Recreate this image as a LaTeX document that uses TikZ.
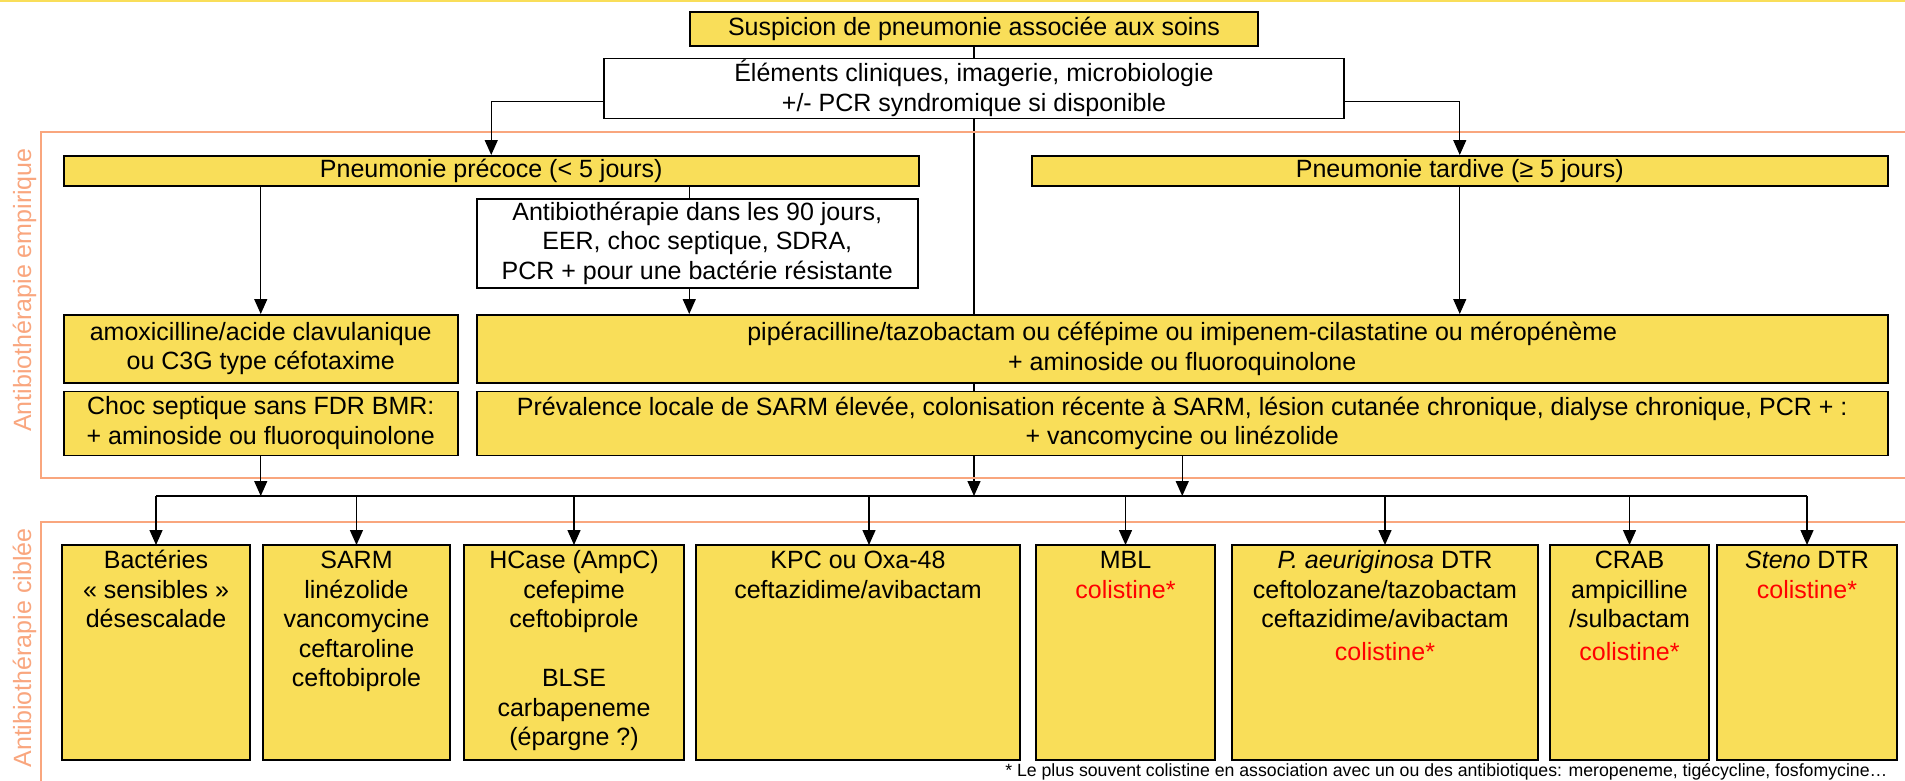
\documentclass[tikz,border=0pt]{standalone}
\usepackage{fontspec}
\setmainfont{Liberation Sans}
\usepackage{xcolor}
\usetikzlibrary{arrows.meta, positioning, calc, backgrounds}

\definecolor{boxyellow}{RGB}{249,222,89}
\definecolor{zoneorange}{RGB}{249,166,126}

% text of the targeted boxes, set at the top
\newcommand{\boxtext}[2]{\parbox[c][209pt][t]{#1}{\centering\strut #2}}

\begin{document}
\begin{tikzpicture}[
    x=1pt, y=-1pt,
    node distance=13pt and 13pt,
    every node/.style={font=\fontsize{25}{29.5}\selectfont},
    yellowbox/.style={
        draw=black,
        fill=boxyellow,
        line width=1.5pt,
        align=center,
        inner sep=1pt
    },
    whitebox/.style={yellowbox, fill=white},
    targetbox/.style={
        draw=black,
        fill=boxyellow,
        line width=1.5pt,
        inner sep=3pt,
        outer sep=0pt
    },
    zone/.style={draw=zoneorange, line width=2pt},
    zonelabel/.style={text=zoneorange, rotate=90, anchor=base},
    arrow/.style={-{Triangle[length=15pt,width=13pt]}, line width=1.4pt},
    link/.style={line width=1.4pt}
]

\useasboundingbox (0,0) rectangle (1905,781);

% top stripe and zones
\draw[boxyellow, line width=3pt] (0,1) -- (1905,1);
\draw[zone] (1905,132) -- (41,132) -- (41,478) -- (1905,478);
\draw[zone] (1905,522) -- (41,522) -- (41,781);
\node[zonelabel] (lblemp) at (31,290) {Antibiothérapie empirique};
\node[zonelabel] (lblcib) at (31,648) {Antibiothérapie ciblée};

% empirical part
\node[yellowbox, minimum width=568pt, minimum height=34pt] (susp) at (974,29) {Suspicion de pneumonie associée aux soins};
\node[whitebox, below=11pt of susp, minimum width=740pt, minimum height=60pt] (elem) {Éléments cliniques, imagerie, microbiologie\\+/- PCR syndromique si disponible};

\node[yellowbox, anchor=north west, minimum width=855pt, minimum height=30pt] (early) at (63,155) {Pneumonie précoce (< 5 jours)};
\node[yellowbox, anchor=north west, minimum width=856pt, minimum height=30pt] (late) at (1031,155) {Pneumonie tardive (≥ 5 jours)};
\node[whitebox, anchor=north west, minimum width=441pt, minimum height=89pt] (risk) at (476,198) {Antibiothérapie dans les 90 jours,\\EER, choc septique, SDRA,\\PCR + pour une bactérie résistante};

\node[yellowbox, anchor=north west, minimum width=394pt, minimum height=68pt] (amox) at (63,314) {amoxicilline/acide clavulanique\\ou C3G type céfotaxime};
\node[yellowbox, below=7pt of amox, minimum width=394pt, minimum height=64pt] (choc) {Choc septique sans FDR BMR:\\+ aminoside ou fluoroquinolone};
\node[yellowbox, anchor=north west, minimum width=1411pt, minimum height=68pt] (broad) at (476,314) {pipéracilline/tazobactam ou céfépime ou imipenem-cilastatine ou méropénème\\+ aminoside ou fluoroquinolone};
\node[yellowbox, below=7pt of broad, minimum width=1411pt, minimum height=64pt] (mrsa) {Prévalence locale de SARM élevée, colonisation récente à SARM, lésion cutanée chronique, dialyse chronique, PCR + :\\+ vancomycine ou linézolide};

% targeted part
\node[targetbox, anchor=north west] (bact) at (62,545) {\boxtext{182pt}{Bactéries\\« sensibles »\\désescalade}};
\node[targetbox, right=13pt of bact] (sarm) {\boxtext{181pt}{SARM\\linézolide\\vancomycine\\ceftaroline\\ceftobiprole}};
\node[targetbox, right=14pt of sarm] (hcase) {\boxtext{214pt}{HCase (AmpC)\\cefepime\\ceftobiprole\\[29.5pt]BLSE\\carbapeneme\\(épargne ?)}};
\node[targetbox, right=12pt of hcase] (kpc) {\boxtext{318pt}{KPC ou Oxa-48\\ceftazidime/avibactam}};
\node[targetbox, right=16pt of kpc] (mbl) {\boxtext{173pt}{MBL\\\textcolor{red}{colistine*}}};
\node[targetbox, right=17pt of mbl] (pae) {\boxtext{300pt}{\textit{P. aeuriginosa} DTR\\ceftolozane/tazobactam\\ceftazidime/avibactam\\[3pt]\textcolor{red}{colistine*}}};
\node[targetbox, right=12pt of pae] (crab) {\boxtext{153pt}{CRAB\\ampicilline\\/sulbactam\\[3pt]\textcolor{red}{colistine*}}};
\node[targetbox, right=8pt of crab] (steno) {\boxtext{174pt}{\textit{Steno} DTR\\\textcolor{red}{colistine*}}};

\node[anchor=base east, font=\fontsize{17.7}{20}\selectfont] (note) at (1891,776) {* Le plus souvent colistine en association avec un ou des antibiotiques: meropeneme, tigécycline, fosfomycine…};

% connectors
\coordinate (bus) at (0,496);
\coordinate (riskin) at ([xshift=-8pt]risk.north);
\coordinate (riskout) at ([xshift=-8pt]risk.south);
\coordinate (kpcin) at ([xshift=11pt]kpc.north);

\begin{scope}[on background layer]
\draw[arrow] (susp.south) -- (susp.south |- bus);
\end{scope}

\draw[arrow] ([yshift=-13pt]elem.west) -| (early.north);
\draw[arrow] ([yshift=-13pt]elem.east) -| (late.north);
\draw[link] (riskin |- early.south) -- (riskin);
\draw[arrow] (riskout) -- (riskout |- broad.north);
\draw[arrow] (early.south -| amox.north) -- (amox.north);
\draw[arrow] (late.south) -- (late.south |- broad.north);
\draw[arrow] (choc.south) -- (choc.south |- bus);
\draw[arrow] (mrsa.south) -- (mrsa.south |- bus);

\draw[link] (bact.north |- bus) -- (steno.north |- bus);
\draw[arrow] (bact.north |- bus) -- (bact.north);
\draw[arrow] (sarm.north |- bus) -- (sarm.north);
\draw[arrow] (hcase.north |- bus) -- (hcase.north);
\draw[arrow] (kpcin |- bus) -- (kpcin);
\draw[arrow] (mbl.north |- bus) -- (mbl.north);
\draw[arrow] (pae.north |- bus) -- (pae.north);
\draw[arrow] (crab.north |- bus) -- (crab.north);
\draw[arrow] (steno.north |- bus) -- (steno.north);

\end{tikzpicture}
\end{document}
